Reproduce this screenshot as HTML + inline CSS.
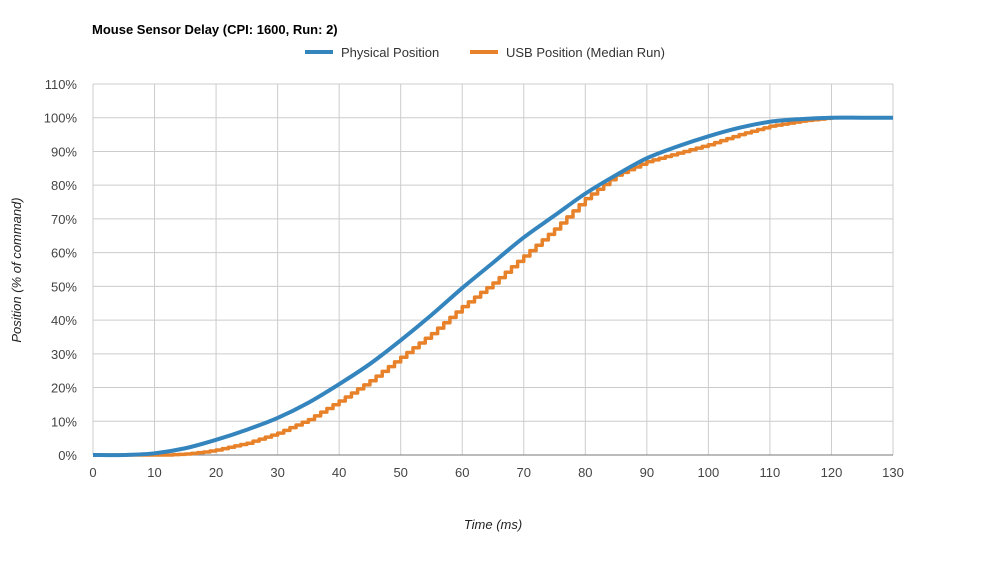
<!DOCTYPE html>
<html><head><meta charset="utf-8"><style>
body{margin:0;background:#fff;font-family:"Liberation Sans",Arial,sans-serif;}
svg text{font-family:"Liberation Sans",Arial,sans-serif;}
</style></head><body>
<svg id="c" width="1000" height="556">
<text x="92" y="34" font-size="13" font-weight="bold" fill="#000">Mouse Sensor Delay (CPI: 1600, Run: 2)</text>
<g>
<line x1="305" y1="52" x2="333" y2="52" stroke="#3485be" stroke-width="4"/>
<text x="341" y="57" font-size="13" fill="#333">Physical Position</text>
<line x1="470" y1="52" x2="498" y2="52" stroke="#e8822a" stroke-width="4"/>
<text x="506" y="57" font-size="13" fill="#333">USB Position (Median Run)</text>
</g>
<g id="grid"></g>
<g id="series"></g>
<text transform="translate(21,270) rotate(-90)" text-anchor="middle" font-size="13" font-style="italic" fill="#222">Position (% of command)</text>
<text x="493" y="529" text-anchor="middle" font-size="13" font-style="italic" fill="#222">Time (ms)</text>
</svg>
<script>
const xTicks=[0,10,20,30,40,50,60,70,80,90,100,110,120,130];
const yTicks=[0,10,20,30,40,50,60,70,80,90,100,110];
const physT=[0,5,10,15,20,25,30,35,40,45,50,55,60,65,70,75,80,85,90,95,100,105,110,115,120,125,130];
const physV=[0,0,0.5,2,4.5,7.5,11,15.5,21,27,34,41.5,49.5,57,64.5,71,77.5,83,88,91.5,94.5,97,98.8,99.6,100,100,100];
const usbStart=10;
const usbV=[0,0,0,0.1,0.2,0.3,0.5,0.7,0.9,1.2,1.5,1.9,2.3,2.7,3.1,3.5,4.1,4.7,5.3,5.9,6.5,7.3,8.1,8.9,9.7,10.5,11.6,12.7,13.8,14.9,16,17.2,18.4,19.6,20.8,22,23.4,24.8,26.2,27.6,29,30.4,31.8,33.2,34.6,36,37.6,39.2,40.8,42.4,44,45.4,46.8,48.2,49.6,51,52.6,54.2,55.8,57.4,59,60.6,62.2,63.8,65.4,67,68.8,70.6,72.4,74.2,76,77.4,78.8,80.2,81.6,83,83.8,84.6,85.4,86.2,87,87.5,88,88.5,89,89.5,90,90.5,91,91.5,92,92.6,93.2,93.8,94.4,95,95.5,96,96.5,97,97.5,97.8,98.1,98.4,98.7,99,99.2,99.4,99.6,99.8,100,100,100,100,100,100,100,100,100,100,100];
const NS="http://www.w3.org/2000/svg";
const X0=93,X1=893,Y0=455,Y1=84;
const xs=t=>X0+(t/130)*(X1-X0);
const ys=v=>Y0-(v/110)*(Y0-Y1);
function mk(tag,at,parent){const e=document.createElementNS(NS,tag);for(const k in at)e.setAttribute(k,at[k]);parent.appendChild(e);return e;}
const g=document.getElementById('grid'),s=document.getElementById('series');
xTicks.forEach(t=>{
 const l=mk('line',{x1:xs(t),x2:xs(t),y1:Y1,y2:Y0,stroke:'#cccccc','stroke-width':1},g);
 
 
 const tx=mk('text',{x:xs(t),y:477,'text-anchor':'middle','font-size':13,fill:'#444'},g);
 tx.textContent=t;
 
 
});
yTicks.forEach(v=>{
 const l=mk('line',{x1:X0,x2:X1,y1:ys(v),y2:ys(v),stroke:v===0?'#777':'#cccccc','stroke-width':1},g);
 
 
 const tx=mk('text',{x:77,y:ys(v)+5,'text-anchor':'end','font-size':13,fill:'#444'},g);
 tx.textContent=v+'%';
 
 
});
let d='M'+xs(0)+','+ys(0)+' L'+xs(usbStart)+','+ys(0);
usbV.forEach((v,i)=>{const t=usbStart+i;d+=' L'+xs(t)+','+ys(i?usbV[i-1]:0)+' L'+xs(t)+','+ys(v);});
d+=' L'+xs(130)+','+ys(usbV[usbV.length-1]);
const u=mk('path',{d:d,fill:'none',stroke:'#e8822a','stroke-width':3.5,'stroke-linejoin':'round'},s);


// smooth Catmull-Rom for physical
const P=physT.map((t,i)=>[xs(t),ys(physV[i])]);
let pd='M'+P[0][0]+','+P[0][1];
for(let i=0;i<P.length-1;i++){
 const p0=P[Math.max(0,i-1)],p1=P[i],p2=P[i+1],p3=P[Math.min(P.length-1,i+2)];
 const c1=[p1[0]+(p2[0]-p0[0])/6,p1[1]+(p2[1]-p0[1])/6];
 const c2=[p2[0]-(p3[0]-p1[0])/6,p2[1]-(p3[1]-p1[1])/6];
 pd+=' C'+c1[0]+','+c1[1]+' '+c2[0]+','+c2[1]+' '+p2[0]+','+p2[1];
}
const p=mk('path',{d:pd,fill:'none',stroke:'#3485be','stroke-width':4,'stroke-linejoin':'round'},s);


</script>
</body></html>
